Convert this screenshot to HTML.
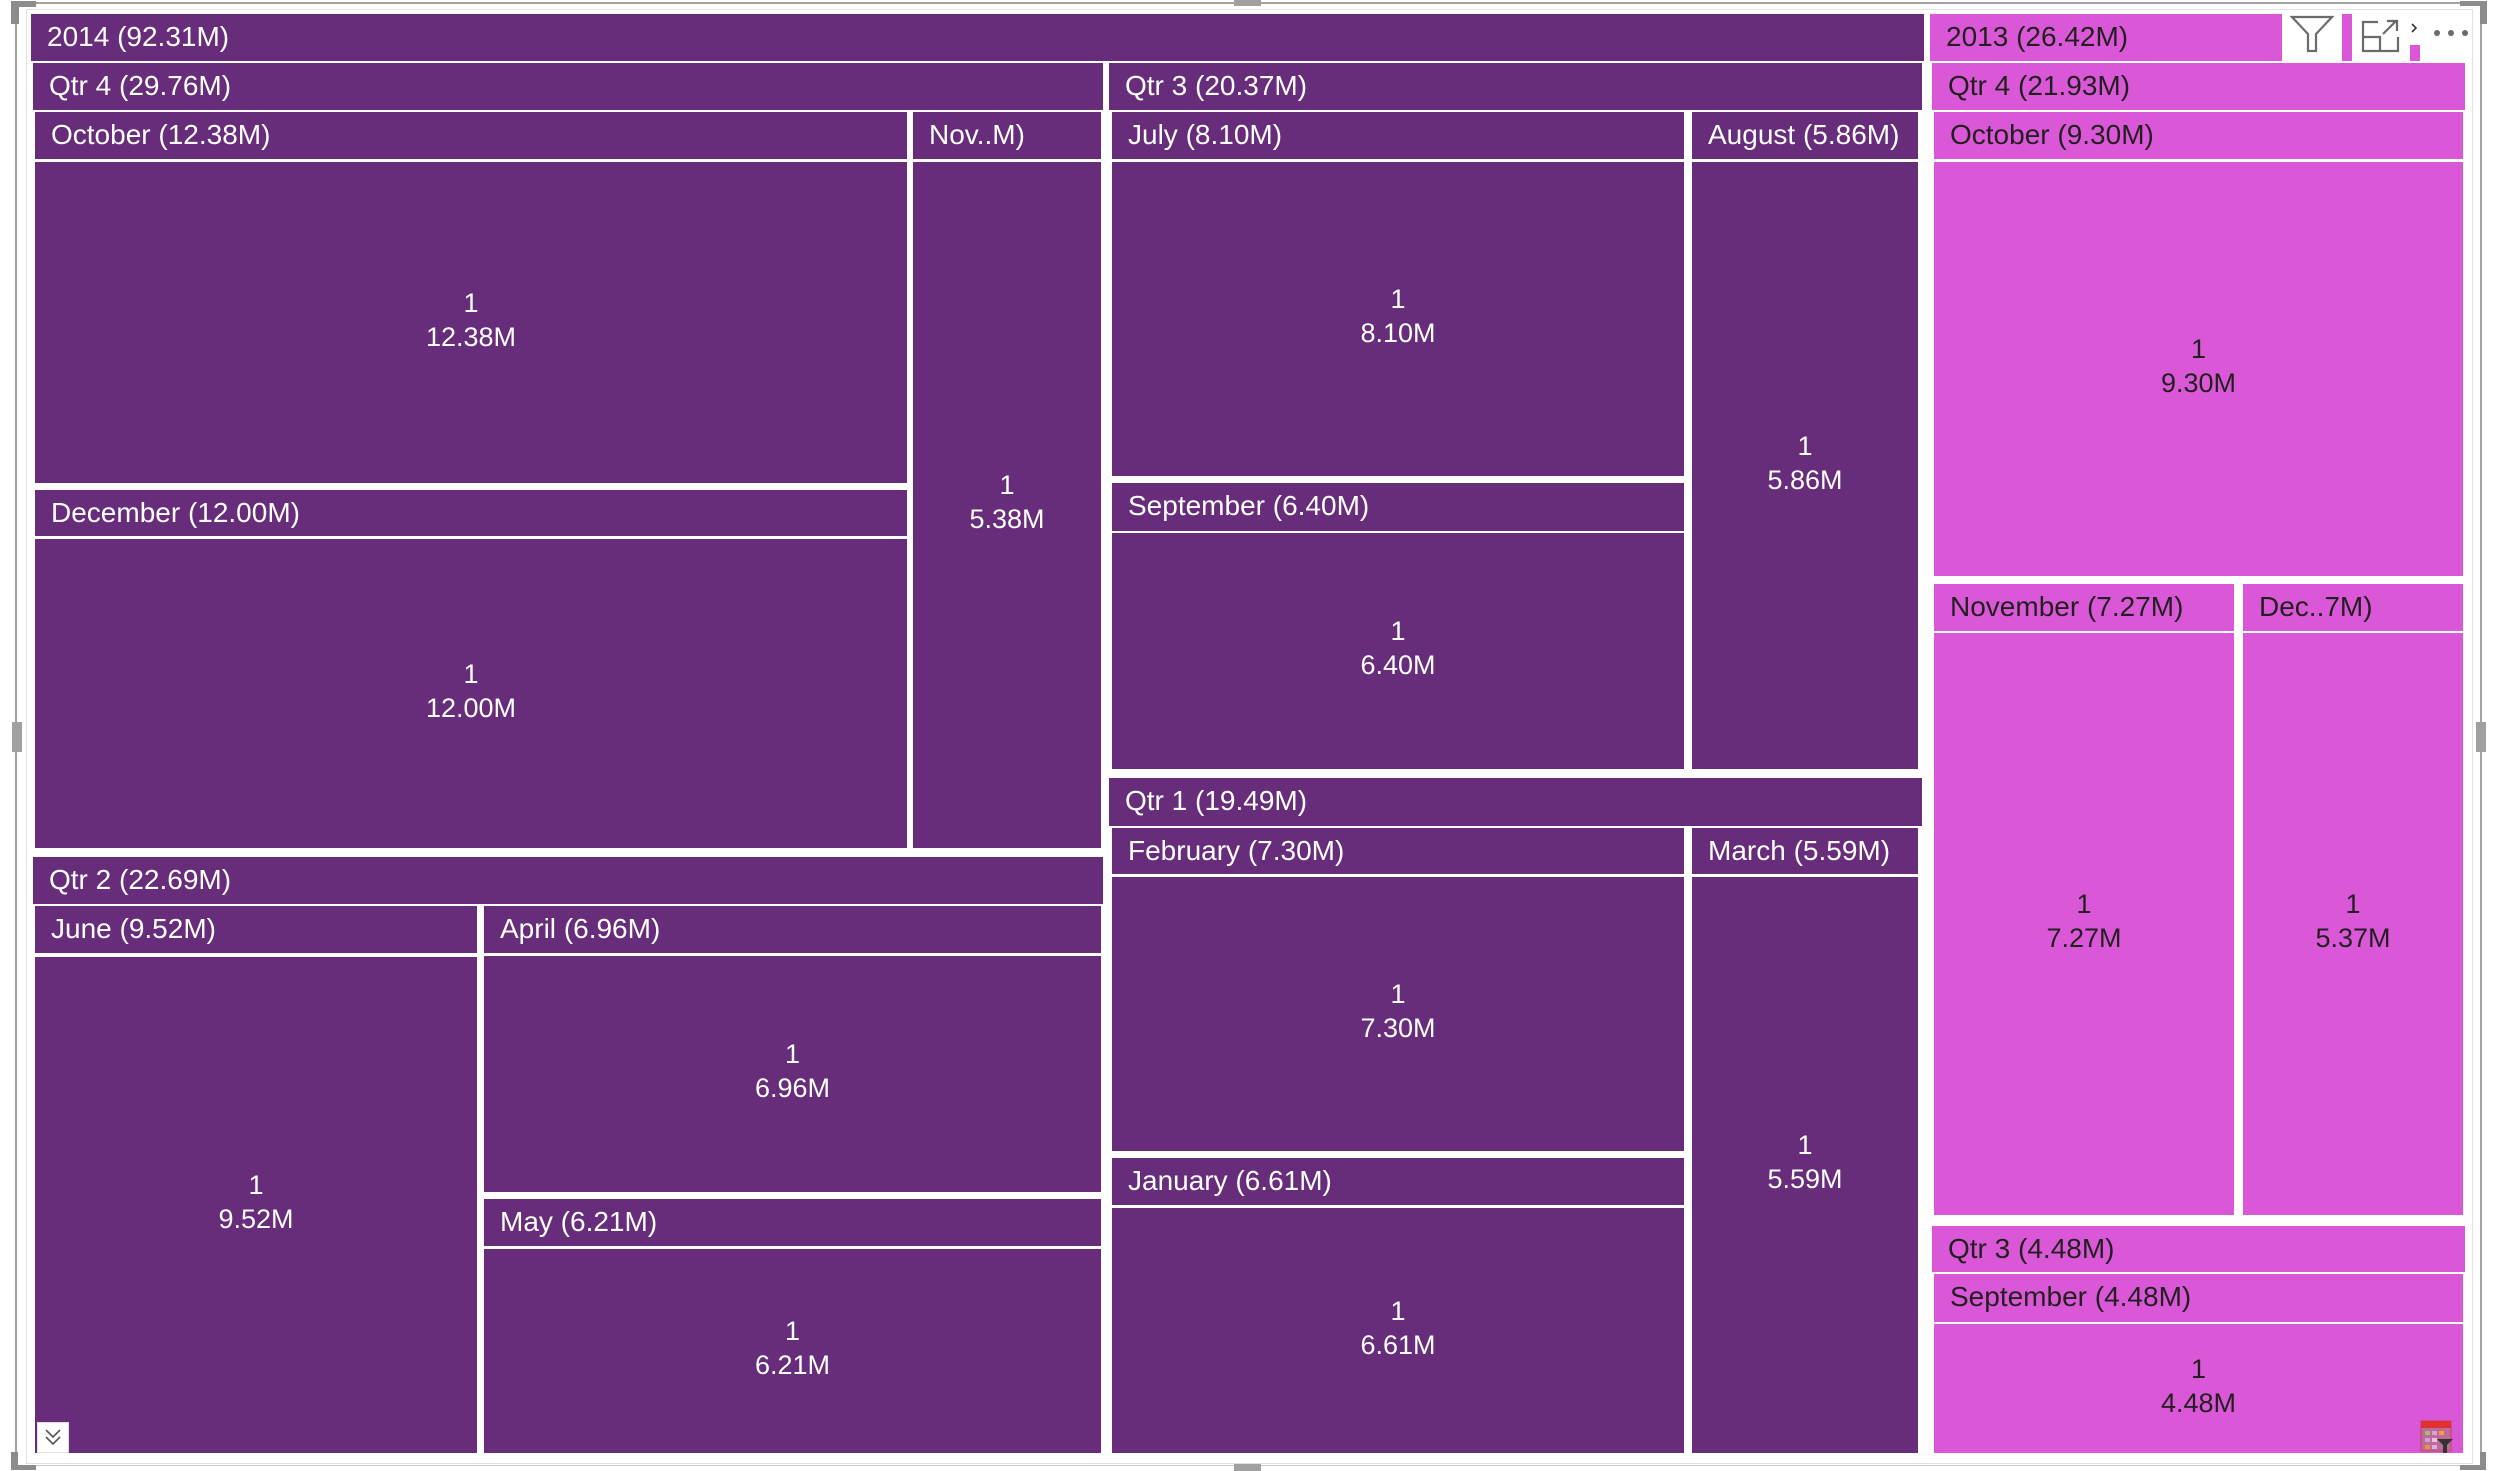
<!DOCTYPE html>
<html>
<head>
<meta charset="utf-8">
<style>
html,body{margin:0;padding:0;background:#fff;}
body{width:2493px;height:1471px;position:relative;overflow:hidden;font-family:"Liberation Sans",Arial,sans-serif;}
.a{position:absolute;box-sizing:border-box;}
.p{background:#672C7A;color:#fff;}
.k{background:#DA58D7;color:#231F20;}
.h{font-size:28px;line-height:45px;padding-left:16px;white-space:nowrap;overflow:hidden;}
.b{display:flex;align-items:center;justify-content:center;text-align:center;font-size:27px;line-height:34px;}
.b span{position:relative;top:-3px;}
.g{background:#a3a3a3;position:absolute;}
.hd{background:#8c8c8c;position:absolute;}
</style>
</head>
<body>

<!-- outer frame -->
<div class="g" style="left:16px;top:2px;width:2466px;height:2px;"></div>
<div class="g" style="left:15px;top:2px;width:2px;height:1464px;"></div>
<div class="g" style="left:2480px;top:2px;width:2px;height:1464px;"></div>
<div class="g" style="left:16px;top:1465px;width:2466px;height:1px;background:#c8c8c8;"></div>
<!-- inner panel -->
<div class="a" style="left:26px;top:9px;width:2447px;height:1455px;border:1px solid #e2e2e2;"></div>

<!-- handles -->
<div class="hd" style="left:11px;top:1px;width:25px;height:6px;"></div>
<div class="hd" style="left:11px;top:1px;width:8px;height:23px;"></div>
<div class="hd" style="left:2460px;top:1px;width:27px;height:5px;"></div>
<div class="hd" style="left:2480px;top:1px;width:7px;height:23px;"></div>
<div class="hd" style="left:11px;top:1452px;width:7px;height:18px;"></div>
<div class="hd" style="left:11px;top:1465px;width:25px;height:5px;"></div>
<div class="hd" style="left:2480px;top:1452px;width:6px;height:18px;"></div>
<div class="hd" style="left:2460px;top:1465px;width:26px;height:5px;"></div>
<div class="hd" style="left:12px;top:722px;width:10px;height:30px;background:#a0a0a0;"></div>
<div class="hd" style="left:2476px;top:722px;width:10px;height:30px;background:#a0a0a0;"></div>
<div class="hd" style="left:1234px;top:0px;width:27px;height:6px;background:#a0a0a0;"></div>
<div class="hd" style="left:1234px;top:1464px;width:27px;height:7px;background:#a0a0a0;"></div>

<!-- 2014 -->
<div class="a p h" style="left:31px;top:14px;width:1893px;height:47px;">2014 (92.31M)</div>
<div class="a p h" style="left:33px;top:63px;width:1070px;height:47px;">Qtr 4 (29.76M)</div>
<div class="a p h" style="left:1109px;top:63px;width:813px;height:47px;">Qtr 3 (20.37M)</div>

<div class="a p h" style="left:35px;top:112px;width:872px;height:47px;">October (12.38M)</div>
<div class="a p b" style="left:35px;top:162px;width:872px;height:321px;"><span>1<br>12.38M</span></div>
<div class="a p h" style="left:35px;top:490px;width:872px;height:46px;">December (12.00M)</div>
<div class="a p b" style="left:35px;top:539px;width:872px;height:309px;"><span>1<br>12.00M</span></div>
<div class="a p h" style="left:913px;top:112px;width:188px;height:47px;">Nov..M)</div>
<div class="a p b" style="left:913px;top:162px;width:188px;height:686px;"><span>1<br>5.38M</span></div>

<div class="a p h" style="left:1112px;top:112px;width:572px;height:47px;">July (8.10M)</div>
<div class="a p b" style="left:1112px;top:162px;width:572px;height:314px;"><span>1<br>8.10M</span></div>
<div class="a p h" style="left:1112px;top:483px;width:572px;height:48px;">September (6.40M)</div>
<div class="a p b" style="left:1112px;top:533px;width:572px;height:236px;"><span>1<br>6.40M</span></div>
<div class="a p h" style="left:1692px;top:112px;width:226px;height:47px;">August (5.86M)</div>
<div class="a p b" style="left:1692px;top:162px;width:226px;height:607px;"><span>1<br>5.86M</span></div>

<div class="a p h" style="left:1109px;top:778px;width:813px;height:48px;">Qtr 1 (19.49M)</div>
<div class="a p h" style="left:1112px;top:828px;width:572px;height:46px;">February (7.30M)</div>
<div class="a p b" style="left:1112px;top:877px;width:572px;height:274px;"><span>1<br>7.30M</span></div>
<div class="a p h" style="left:1112px;top:1158px;width:572px;height:47px;">January (6.61M)</div>
<div class="a p b" style="left:1112px;top:1208px;width:572px;height:245px;"><span>1<br>6.61M</span></div>
<div class="a p h" style="left:1692px;top:828px;width:226px;height:46px;">March (5.59M)</div>
<div class="a p b" style="left:1692px;top:877px;width:226px;height:576px;"><span>1<br>5.59M</span></div>

<div class="a p h" style="left:33px;top:857px;width:1070px;height:47px;">Qtr 2 (22.69M)</div>
<div class="a p h" style="left:35px;top:906px;width:442px;height:47px;">June (9.52M)</div>
<div class="a p b" style="left:35px;top:957px;width:442px;height:496px;"><span>1<br>9.52M</span></div>
<div class="a p h" style="left:484px;top:906px;width:617px;height:47px;">April (6.96M)</div>
<div class="a p b" style="left:484px;top:956px;width:617px;height:236px;"><span>1<br>6.96M</span></div>
<div class="a p h" style="left:484px;top:1199px;width:617px;height:47px;">May (6.21M)</div>
<div class="a p b" style="left:484px;top:1249px;width:617px;height:204px;"><span>1<br>6.21M</span></div>

<!-- 2013 -->
<div class="a k h" style="left:1930px;top:14px;width:537px;height:47px;">2013 (26.42M)</div>
<div class="a k h" style="left:1932px;top:63px;width:533px;height:47px;">Qtr 4 (21.93M)</div>
<div class="a k h" style="left:1934px;top:112px;width:529px;height:47px;">October (9.30M)</div>
<div class="a k b" style="left:1934px;top:162px;width:529px;height:414px;"><span>1<br>9.30M</span></div>
<div class="a k h" style="left:1934px;top:584px;width:300px;height:47px;">November (7.27M)</div>
<div class="a k b" style="left:1934px;top:633px;width:300px;height:582px;"><span>1<br>7.27M</span></div>
<div class="a k h" style="left:2243px;top:584px;width:220px;height:47px;">Dec..7M)</div>
<div class="a k b" style="left:2243px;top:633px;width:220px;height:582px;"><span>1<br>5.37M</span></div>
<div class="a k h" style="left:1932px;top:1226px;width:533px;height:46px;">Qtr 3 (4.48M)</div>
<div class="a k h" style="left:1934px;top:1274px;width:529px;height:48px;">September (4.48M)</div>
<div class="a k b" style="left:1934px;top:1324px;width:529px;height:129px;"><span>1<br>4.48M</span></div>

<!-- top-right visual header icons -->
<div class="a" style="left:2282px;top:13px;width:60px;height:48px;background:#fff;"></div>
<div class="a" style="left:2352px;top:13px;width:58px;height:48px;background:#fff;"></div>
<div class="a" style="left:2410px;top:13px;width:10px;height:32px;background:#fff;"></div>
<div class="a" style="left:2420px;top:13px;width:52px;height:48px;background:#fff;"></div>
<svg class="a" style="left:2282px;top:13px;" width="190" height="48" viewBox="0 0 190 48">
  <!-- funnel -->
  <path d="M10 4 L50 4 L34 21 L34 38 L26 38 L26 21 Z" fill="none" stroke="#6b6b6b" stroke-width="2.2" stroke-linejoin="miter"/>
  <!-- focus mode -->
  <path d="M96 9 L81 9 L81 38 L116 38 L116 24" fill="none" stroke="#6b6b6b" stroke-width="2.2"/>
  <path d="M81 24 L98 24 L98 38" fill="none" stroke="#6b6b6b" stroke-width="2.2"/>
  <path d="M101 21 L114 8 M105 8 L115 8 L115 18" fill="none" stroke="#6b6b6b" stroke-width="2.2"/>
  <!-- chevron -->
  <path d="M130 11 L134 15 L130 19" fill="none" stroke="#333" stroke-width="1.6"/>
  <!-- dots -->
  <circle cx="155" cy="20" r="3" fill="#6b6b6b"/>
  <circle cx="169" cy="20" r="3" fill="#6b6b6b"/>
  <circle cx="183" cy="20" r="3" fill="#6b6b6b"/>
</svg>

<!-- bottom-left collapse icon -->
<div class="a" style="left:37px;top:1422px;width:32px;height:31px;background:#fff;border:1px solid #e4dfe6;"></div>
<svg class="a" style="left:37px;top:1422px;" width="32" height="31" viewBox="0 0 32 31">
  <path d="M9 8 L16 15 L23 8 M9 15 L16 22 L23 15" fill="none" stroke="#555" stroke-width="1.6"/>
</svg>

<!-- bottom-right calendar/filter icon -->
<svg class="a" style="left:2420px;top:1420px;" width="34" height="34" viewBox="0 0 34 34">
  <rect x="1" y="1" width="30" height="30" fill="#c06a9a" stroke="#b8485a" stroke-width="1"/>
  <rect x="1" y="1" width="30" height="7" fill="#e03030"/>
  <rect x="5" y="11" width="5" height="4" fill="#9ec46a"/>
  <rect x="12" y="11" width="5" height="4" fill="#d8a0d8"/>
  <rect x="19" y="11" width="5" height="4" fill="#f0a040"/>
  <rect x="5" y="18" width="5" height="4" fill="#c8a0e0"/>
  <rect x="12" y="18" width="5" height="4" fill="#e8c0e8"/>
  <rect x="5" y="25" width="5" height="4" fill="#f09040"/>
  <rect x="12" y="25" width="5" height="4" fill="#d8b0e0"/>
  <path d="M17 19 L33 19 L27 25 L27 33 L23 33 L23 25 Z" fill="#333"/>
</svg>

</body>
</html>
